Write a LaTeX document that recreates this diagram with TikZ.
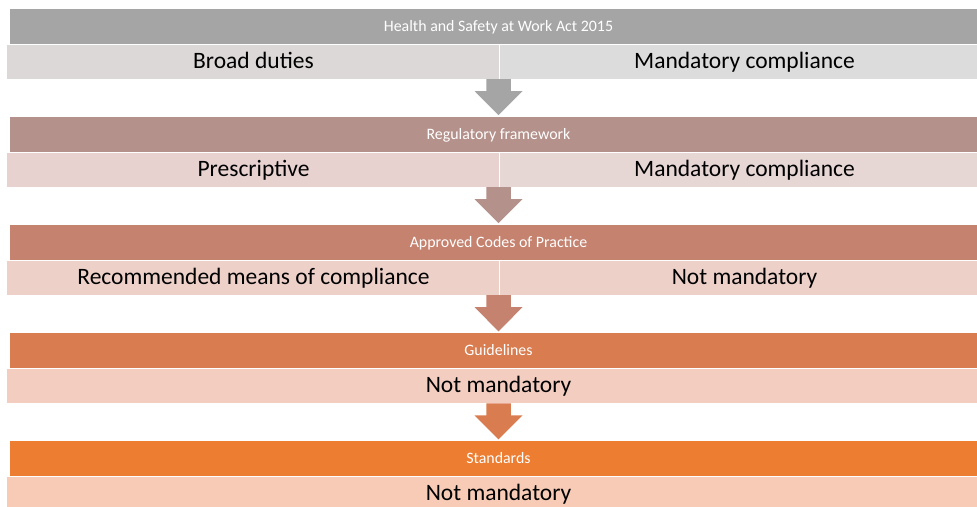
\documentclass[tikz,border=0pt]{standalone}
\usepackage{fontspec}
\setmainfont{Carlito}
\definecolor{hA}{HTML}{A5A5A5}
\definecolor{sAl}{HTML}{DCD8D7}
\definecolor{sAr}{HTML}{DCDCDC}
\definecolor{hB}{HTML}{B4918A}
\definecolor{sBl}{HTML}{E7D2D0}
\definecolor{sBr}{HTML}{E6D6D4}
\definecolor{hC}{HTML}{C5826F}
\definecolor{sC}{HTML}{EDD1C9}
\definecolor{hD}{HTML}{D97C50}
\definecolor{sD}{HTML}{F3CEC0}
\definecolor{hE}{HTML}{ED7D31}
\definecolor{sE}{HTML}{F7CBB6}
\begin{document}
\begin{tikzpicture}[x=1pt,y=-1pt,
  hdr/.style={rectangle, inner sep=0pt, outer sep=0pt, anchor=north west, minimum width=967.5pt, minimum height=35.5pt},
  subcell/.style={rectangle, inner sep=0pt, outer sep=0pt, anchor=north west, minimum height=35pt, draw=white, line width=0.6pt},
  htext/.style={text=white, font=\fontsize{15.9}{18}\selectfont, inner sep=0pt, anchor=base},
  stext/.style={text=black, font=\fontsize{23.5}{26}\selectfont, inner sep=0pt, anchor=base}]
\useasboundingbox (0,0) rectangle (977,506);
\coordinate (ax) at (498.5,0);
% row 1
\node[hdr, fill=hA] (h1) at (9.5,8.5) {};
\node[htext] (h1t) at (498.5,31.3) {Health and Safety at Work Act 2015};
\node[subcell, fill=sAl, minimum width=492.5pt] (s1l) at (6.5,44) {};
\node[subcell, fill=sAr, minimum width=490pt] (s1r) at (499,44) {};
\node[stext] (s1lt) at (253.5,68.4) {Broad duties};
\node[stext] (s1rt) at (744.5,68.4) {Mandatory compliance};
% row 2
\node[hdr, fill=hB] (h2) at (9.5,116.6) {};
\node[htext] (h2t) at (498.5,139.4) {Regulatory framework};
\node[subcell, fill=sBl, minimum width=492.5pt] (s2l) at (6.5,152.1) {};
\node[subcell, fill=sBr, minimum width=490pt] (s2r) at (499,152.1) {};
\node[stext] (s2lt) at (253.5,176.5) {Prescriptive};
\node[stext] (s2rt) at (744.5,176.5) {Mandatory compliance};
% row 3
\node[hdr, fill=hC] (h3) at (9.5,224.7) {};
\node[htext] (h3t) at (498.5,247.5) {Approved Codes of Practice};
\node[subcell, fill=sC, minimum width=492.5pt] (s3l) at (6.5,260.2) {};
\node[subcell, fill=sC, minimum width=490pt] (s3r) at (499,260.2) {};
\node[stext] (s3lt) at (253.5,284.6) {Recommended means of compliance};
\node[stext] (s3rt) at (744.5,284.6) {Not mandatory};
% row 4
\node[hdr, fill=hD] (h4) at (9.5,332.8) {};
\node[htext] (h4t) at (498.5,355.6) {Guidelines};
\node[subcell, fill=sD, minimum width=982.5pt] (s4) at (6.5,368.3) {};
\node[stext] (s4t) at (498.5,392.7) {Not mandatory};
% row 5
\node[hdr, fill=hE] (h5) at (9.5,440.9) {};
\node[htext] (h5t) at (498.5,463.7) {Standards};
\node[subcell, fill=sE, minimum width=982.5pt] (s5) at (6.5,476.4) {};
\node[stext] (s5t) at (498.5,500.8) {Not mandatory};
% block arrows
\foreach \s/\n/\c in {s1l/h2/hA, s2l/h3/hB, s3l/h4/hC, s4/h5/hD}{
  \path (\s.south -| ax) coordinate (as) (\n.north -| ax) coordinate (ae);
  \fill[\c] ([xshift=-12.25pt]as) -- ([xshift=12.25pt]as) -- ([xshift=12.25pt,yshift=-12pt]as)
    -- ([xshift=24pt,yshift=-12pt]as) -- ([yshift=1.5pt]ae) -- ([xshift=-24pt,yshift=-12pt]as)
    -- ([xshift=-12.25pt,yshift=-12pt]as) -- cycle;
}
\end{tikzpicture}
\end{document}
